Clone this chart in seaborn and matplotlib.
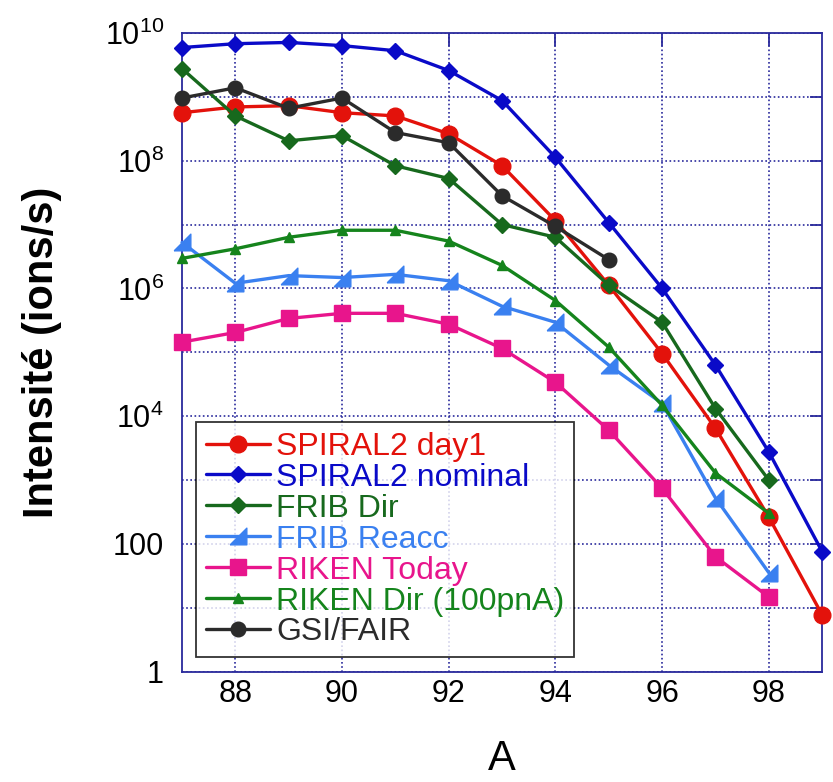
import numpy as np
import pandas as pd
import matplotlib
matplotlib.use("Agg")
import matplotlib.pyplot as plt
import matplotlib.ticker as mticker
import seaborn as sns

# mass numbers
A_full = [87, 88, 89, 90, 91, 92, 93, 94, 95, 96, 97, 98, 99]
A_98 = A_full[:-1]
A_95 = A_full[:9]

# log10 of intensities
spiral2_day1 = [8.75, 8.84, 8.86, 8.75, 8.70, 8.42, 7.92, 7.06, 6.05, 4.98, 3.81, 2.42, 0.89]
spiral2_nominal = [9.77, 9.83, 9.85, 9.80, 9.72, 9.41, 8.94, 8.05, 7.03, 6.00, 4.80, 3.44, 1.88]
frib_dir = [9.44, 8.70, 8.31, 8.39, 7.92, 7.72, 7.00, 6.80, 6.05, 5.47, 4.12, 3.00]
frib_reacc = [6.72, 6.08, 6.20, 6.17, 6.22, 6.12, 5.72, 5.47, 4.80, 4.20, 2.72, 1.55]
riken_today = [5.16, 5.31, 5.53, 5.61, 5.61, 5.44, 5.06, 4.53, 3.78, 2.87, 1.80, 1.17]
riken_dir = [6.47, 6.62, 6.80, 6.91, 6.91, 6.74, 6.36, 5.81, 5.08, 4.17, 3.11, 2.48]
gsi_fair = [8.98, 9.14, 8.82, 8.98, 8.44, 8.28, 7.45, 6.97, 6.45]

labels = ["SPIRAL2 day1", "SPIRAL2 nominal", "FRIB Dir", "FRIB Reacc",
          "RIKEN Today", "RIKEN Dir (100pnA)", "GSI/FAIR"]
xs = [A_full, A_full, A_98, A_98, A_98, A_98, A_95]
logs = [spiral2_day1, spiral2_nominal, frib_dir, frib_reacc,
        riken_today, riken_dir, gsi_fair]
colors = ["#e3120b", "#0a0ac8", "#17691d", "#3a80f0",
          "#e8158c", "#15841c", "#2b2b2b"]
rtri = [(-1, -1), (1, -1), (1, 1), (-1, -1)]
markers = ["o", "D", "D", rtri, "s", "^", "o"]
msizes = [12, 8.5, 8, 12, 11, 7.5, 10.5]

sns.set_style("white")
plt.rcParams['font.family'] = ['Liberation Sans', 'DejaVu Sans']
plt.rcParams['mathtext.fontset'] = 'custom'
plt.rcParams['mathtext.rm'] = 'Liberation Sans'
plt.rcParams['mathtext.it'] = 'Liberation Sans'

frame = "#2a2a9c"
fig = plt.figure(figsize=(8.33, 7.82), dpi=100)
ax = fig.add_axes([0.2185, 0.141, 0.7685, 0.817])

for lab, x, lg, c, m, ms in zip(labels, xs, logs, colors, markers, msizes):
    df = pd.DataFrame({"A": x, "I": 10 ** np.array(lg)})
    sns.lineplot(data=df, x="A", y="I", ax=ax, color=c, marker=m,
                 markersize=ms, markeredgecolor=c, markeredgewidth=1,
                 linewidth=2.4, label=lab, clip_on=False, zorder=3)

ax.set_yscale("log")
ax.set_xlim(87, 99)
ax.set_ylim(1, 1e10)

ax.set_xticks([88, 90, 92, 94, 96, 98])
ax.yaxis.set_major_locator(mticker.FixedLocator([10.0 ** k for k in range(0, 11)]))
ax.yaxis.set_minor_locator(mticker.NullLocator())
ylabs = []
for k in range(0, 11):
    if k % 2:
        ylabs.append("")
    elif k == 0:
        ylabs.append("1")
    elif k == 2:
        ylabs.append("100")
    else:
        ylabs.append(r"$10^{%d}$" % k)
ax.yaxis.set_major_formatter(mticker.FixedFormatter(ylabs))

ax.grid(True, which="major", color=frame, linestyle=(0, (1, 1.5)), linewidth=1.2)
ax.tick_params(axis="both", direction="in", length=9, width=1.3, color=frame,
               top=True, right=True, labelsize=22, labelcolor="black")
ax.tick_params(axis="y", pad=13)
ax.tick_params(axis="x", pad=5)
for s in ax.spines.values():
    s.set_color(frame)
    s.set_linewidth(1.3)

ax.set_xlabel("A", fontsize=30, color="black")
ax.xaxis.set_label_coords(0.5, -0.105)
ax.set_ylabel("Intensité (ions/s)", fontsize=30, fontweight="bold", color="black")
ax.yaxis.set_label_coords(-0.1875, 0.5)

leg = ax.legend(loc="lower left", bbox_to_anchor=(0.022, 0.023), fontsize=23,
                frameon=True, fancybox=False, edgecolor="black",
                handlelength=2.0, handletextpad=0.2, labelspacing=0.03,
                borderpad=0.3, borderaxespad=0)
leg.get_frame().set_linewidth(1.3)
leg.set_zorder(5)
for t, c in zip(leg.get_texts(), colors):
    t.set_color(c)

fig.savefig("out.png", dpi=100)
